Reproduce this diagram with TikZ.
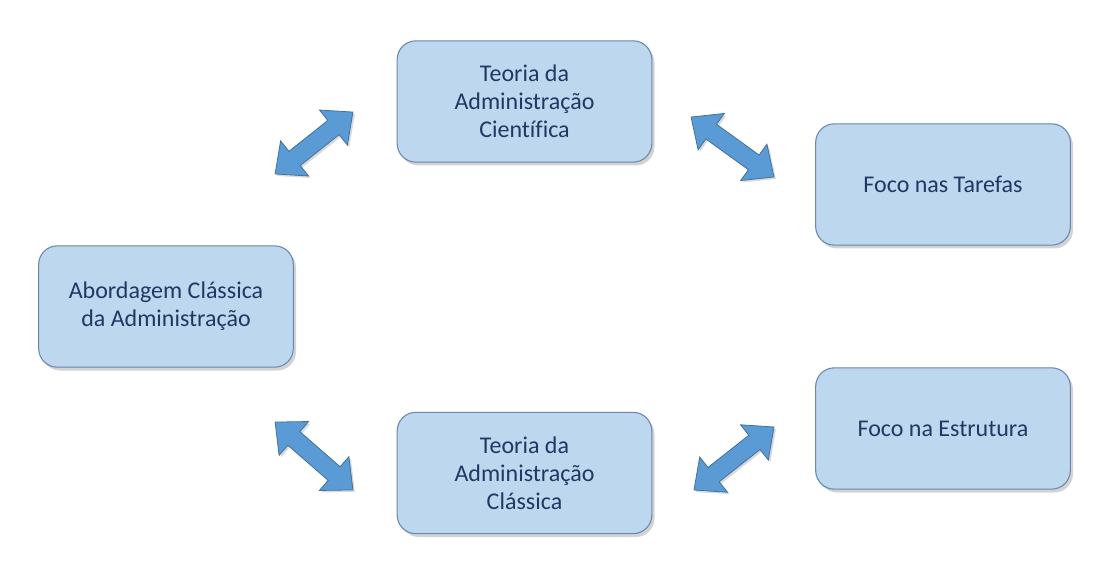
\documentclass[tikz,border=0pt]{standalone}
\usepackage{fontspec}
\setmainfont{Carlito}[Ligatures=NoCommon]
\usetikzlibrary{shapes.arrows,shadows,calc}
\definecolor{boxfill}{RGB}{189,215,238}
\definecolor{boxline}{RGB}{105,135,175}
\definecolor{boxtext}{RGB}{31,56,100}
\definecolor{arrowfill}{RGB}{91,155,213}
\definecolor{arrowline}{RGB}{65,113,156}
\begin{document}
\begin{tikzpicture}[
    x=0.75pt, y=-0.75pt,
    font=\fontsize{18}{21}\selectfont,
    box/.style={draw=boxline, fill=boxfill, line width=0.8pt, rounded corners=14pt,
      minimum width=191pt, minimum height=91pt, align=center, text=boxtext,
      drop shadow={opacity=0.35, shadow xshift=2pt, shadow yshift=-2.5pt}},
    link/.style={double arrow, draw=arrowline, fill=arrowfill, line width=0.6pt,
      double arrow head extend=10pt, double arrow tip angle=84,
      inner xsep=0pt, inner ysep=6.5pt,
      drop shadow={opacity=0.3, shadow xshift=1.5pt, shadow yshift=-1.5pt}},
  ]
  \useasboundingbox (0,0) rectangle (1117,577);

  % The five boxes
  \node[box] (sci) at (524.5,101.5) {Teoria da\\Administração\\Científica};
  \node[box] (tarefas) at (943,184.5) {Foco nas Tarefas};
  \node[box] (abord) at (166,306.5) {Abordagem Clássica\\da Administração};
  \node[box] (classica) at (524.5,473) {Teoria da\\Administração\\Clássica};
  \node[box] (estrutura) at (943,428.5) {Foco na Estrutura};

  % End points of the block arrows, in the gaps between the boxes
  \coordinate (a1s) at (275,174);
  \coordinate (a1e) at (353,112);
  \coordinate (a2s) at (691,117);
  \coordinate (a2e) at (774,177);
  \coordinate (a3s) at (275,422);
  \coordinate (a3e) at (353,490);
  \coordinate (a4s) at (694,490);
  \coordinate (a4e) at (774,427);

  \foreach \s/\e in {a1s/a1e, a2s/a2e, a3s/a3e, a4s/a4e}
    \path let \p1=($(\e)-(\s)$), \n1={atan2(\y1,\x1)}, \n2={veclen(\x1,\y1)} in
      node[link, minimum height=\n2, rotate=\n1] (arr\s) at ($(\s)!0.5!(\e)$) {};
\end{tikzpicture}
\end{document}
